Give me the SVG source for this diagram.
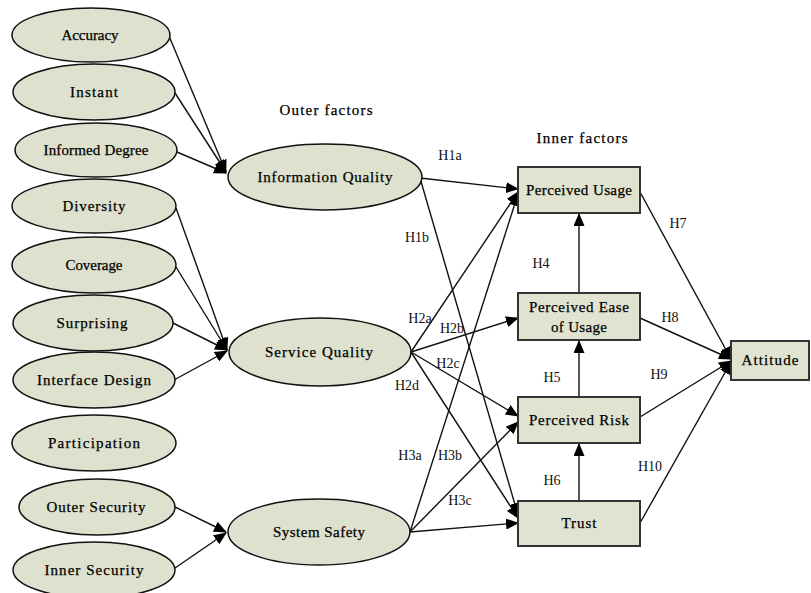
<svg xmlns="http://www.w3.org/2000/svg" width="811" height="593" viewBox="0 0 811 593">
  <style>
    .ell { fill: #dde1cd; stroke: #111; stroke-width: 1.5; }
    .box { fill: #dfe3cf; stroke: #333; stroke-width: 2; }
    .lbl { font-family: "Liberation Serif", "DejaVu Serif", serif; font-size: 15px; fill: #000; stroke: #000; stroke-width: 0.25; text-anchor: middle; }
    .hyp { font-family: "Liberation Serif", "DejaVu Serif", serif; font-size: 14px; fill: #111; text-anchor: middle; }
    .edge { fill: none; stroke: #111; stroke-width: 1.4; }
  </style>
  <defs>
    <marker id="arrow" markerUnits="userSpaceOnUse" markerWidth="13" markerHeight="11" refX="12" refY="5.5" orient="auto">
      <path d="M0,0 L13,5.5 L0,11 Z" fill="#000"/>
    </marker>
  </defs>
  <rect width="811" height="593" fill="#fff"/>

  <!-- connectors -->
  <g id="connectors">
    <!-- indicators into Information Quality -->
    <path class="edge" d="M169,36 L226,172" marker-end="url(#arrow)"/>
    <path class="edge" d="M175,93 L226,172" marker-end="url(#arrow)"/>
    <path class="edge" d="M177,152 L226,173" marker-end="url(#arrow)"/>
    <!-- indicators into Service Quality -->
    <path class="edge" d="M176,208 L227,350" marker-end="url(#arrow)"/>
    <path class="edge" d="M176,267 L227,350" marker-end="url(#arrow)"/>
    <path class="edge" d="M173,323 L227,350" marker-end="url(#arrow)"/>
    <path class="edge" d="M174,380 L227,351" marker-end="url(#arrow)"/>
    <!-- indicators into System Safety -->
    <path class="edge" d="M175,507 L226,532" marker-end="url(#arrow)"/>
    <path class="edge" d="M175,568 L226,533" marker-end="url(#arrow)"/>

    <!-- outer factors to inner factors -->
    <path class="edge" d="M420,178 L518,189" marker-end="url(#arrow)"/>
    <path class="edge" d="M420,178 L518,515" marker-end="url(#arrow)"/>
    <path class="edge" d="M411,352 L518,192" marker-end="url(#arrow)"/>
    <path class="edge" d="M411,352 L518,318" marker-end="url(#arrow)"/>
    <path class="edge" d="M411,352 L518,416" marker-end="url(#arrow)"/>
    <path class="edge" d="M411,352 L518,518" marker-end="url(#arrow)"/>
    <path class="edge" d="M410,532 L518,194" marker-end="url(#arrow)"/>
    <path class="edge" d="M410,532 L518,422" marker-end="url(#arrow)"/>
    <path class="edge" d="M410,532 L518,523" marker-end="url(#arrow)"/>

    <!-- inner chain -->
    <path class="edge" d="M579,293 L579,214" marker-end="url(#arrow)"/>
    <path class="edge" d="M579,397 L579,341" marker-end="url(#arrow)"/>
    <path class="edge" d="M579,501 L579,444" marker-end="url(#arrow)"/>

    <!-- inner factors to Attitude -->
    <path class="edge" d="M640,192 L731,359" marker-end="url(#arrow)"/>
    <path class="edge" d="M640,318 L731,359" marker-end="url(#arrow)"/>
    <path class="edge" d="M640,417 L731,361" marker-end="url(#arrow)"/>
    <path class="edge" d="M640,523 L731,362" marker-end="url(#arrow)"/>
  </g>

  <!-- hypothesis labels -->
  <g id="hypotheses">
    <text class="hyp" x="450" y="160">H1a</text>
    <text class="hyp" x="417" y="242">H1b</text>
    <text class="hyp" x="420" y="323">H2a</text>
    <text class="hyp" x="452" y="333">H2b</text>
    <text class="hyp" x="448" y="368">H2c</text>
    <text class="hyp" x="407" y="390">H2d</text>
    <text class="hyp" x="410" y="460">H3a</text>
    <text class="hyp" x="450" y="460">H3b</text>
    <text class="hyp" x="460" y="505">H3c</text>
    <text class="hyp" x="541" y="268">H4</text>
    <text class="hyp" x="552" y="382">H5</text>
    <text class="hyp" x="552" y="485">H6</text>
    <text class="hyp" x="678" y="228">H7</text>
    <text class="hyp" x="670" y="322">H8</text>
    <text class="hyp" x="659" y="379">H9</text>
    <text class="hyp" x="650" y="471">H10</text>
  </g>

  <!-- section titles -->
  <text class="lbl" x="326" y="115" textLength="93">Outer factors</text>
  <text class="lbl" x="582" y="143" textLength="91">Inner factors</text>

  <!-- indicator nodes -->
  <g id="accuracy"><ellipse class="ell" cx="91" cy="35" rx="79" ry="27"/><text class="lbl" x="90" y="40" textLength="57">Accuracy</text></g>
  <g id="instant"><ellipse class="ell" cx="94" cy="92" rx="81" ry="28"/><text class="lbl" x="94" y="97" textLength="48">Instant</text></g>
  <g id="informed-degree"><ellipse class="ell" cx="96" cy="150" rx="81" ry="27"/><text class="lbl" x="96" y="155" textLength="105">Informed Degree</text></g>
  <g id="diversity"><ellipse class="ell" cx="94" cy="206" rx="82" ry="27"/><text class="lbl" x="94" y="211" textLength="63">Diversity</text></g>
  <g id="coverage"><ellipse class="ell" cx="94" cy="265" rx="82" ry="28"/><text class="lbl" x="94" y="270" textLength="57">Coverage</text></g>
  <g id="surprising"><ellipse class="ell" cx="93" cy="323" rx="80" ry="28"/><text class="lbl" x="92" y="328" textLength="71">Surprising</text></g>
  <g id="interface-design"><ellipse class="ell" cx="94" cy="380" rx="81" ry="28"/><text class="lbl" x="94" y="385" textLength="114">Interface Design</text></g>
  <g id="participation"><ellipse class="ell" cx="94" cy="443" rx="82" ry="28"/><text class="lbl" x="94" y="448" textLength="92">Participation</text></g>
  <g id="outer-security"><ellipse class="ell" cx="97" cy="507" rx="78" ry="28"/><text class="lbl" x="96" y="512" textLength="99">Outer Security</text></g>
  <g id="inner-security"><ellipse class="ell" cx="94" cy="570" rx="81" ry="28"/><text class="lbl" x="94" y="575" textLength="99">Inner Security</text></g>

  <!-- outer factor nodes -->
  <g id="information-quality"><ellipse class="ell" cx="325" cy="177" rx="97" ry="33"/><text class="lbl" x="325" y="182" textLength="135">Information Quality</text></g>
  <g id="service-quality"><ellipse class="ell" cx="320" cy="352" rx="91" ry="34"/><text class="lbl" x="319" y="357" textLength="108">Service Quality</text></g>
  <g id="system-safety"><ellipse class="ell" cx="319" cy="532" rx="91" ry="33"/><text class="lbl" x="319" y="537" textLength="92">System Safety</text></g>

  <!-- inner factor nodes -->
  <g id="perceived-usage"><rect class="box" x="518" y="167" width="122" height="46"/><text class="lbl" x="579" y="195" textLength="106">Perceived Usage</text></g>
  <g id="perceived-ease"><rect class="box" x="518" y="293" width="122" height="47"/><text class="lbl" x="579" y="312" textLength="100">Perceived Ease</text><text class="lbl" x="579" y="332" textLength="56">of Usage</text></g>
  <g id="perceived-risk"><rect class="box" x="518" y="397" width="122" height="46"/><text class="lbl" x="579" y="425" textLength="100">Perceived Risk</text></g>
  <g id="trust"><rect class="box" x="518" y="501" width="122" height="45"/><text class="lbl" x="579" y="528" textLength="35">Trust</text></g>
  <g id="attitude"><rect class="box" x="731" y="341" width="78" height="39"/><text class="lbl" x="770" y="365" textLength="57">Attitude</text></g>
</svg>
